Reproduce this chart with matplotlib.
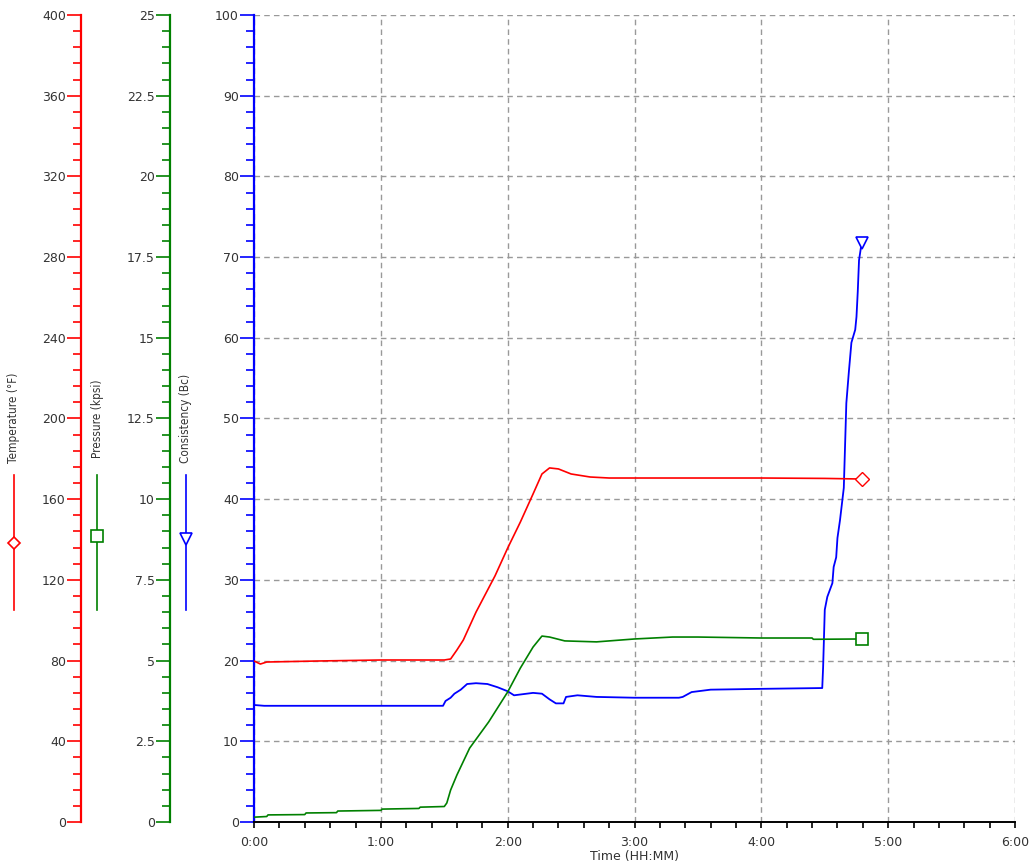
import numpy as np
import matplotlib
matplotlib.use("Agg")
import matplotlib.pyplot as plt
from matplotlib.lines import Line2D
from matplotlib.ticker import MultipleLocator, FuncFormatter

# data (time in hours)
temp_t = [0, 0.05, 0.1, 0.5, 1.0, 1.5, 1.55, 1.6, 1.65, 1.75, 1.9, 2.0, 2.1, 2.2,
          2.27, 2.33, 2.4, 2.5, 2.65, 2.8, 3.0, 3.5, 4.0, 4.5, 4.79]
temp_v = [79.8, 78.3, 79.3, 79.8, 80.3, 80.3, 80.8, 85.3, 90.2, 104, 122, 135.8, 148.7, 162.6,
          172.5, 175.5, 175, 172.5, 171, 170.5, 170.5, 170.5, 170.5, 170.3, 170]

pres_t = [0, 0.1, 0.11, 0.4, 0.41, 0.65, 0.66, 1.0, 1.01, 1.3, 1.31, 1.5, 1.52, 1.55, 1.6,
          1.7, 1.85, 2.0, 2.1, 2.2, 2.27, 2.33, 2.45, 2.7, 3.0, 3.3, 3.5, 4.0, 4.4, 4.41, 4.79]
pres_v = [0.15, 0.17, 0.22, 0.23, 0.28, 0.29, 0.34, 0.36, 0.40, 0.42, 0.46, 0.48, 0.59, 0.99, 1.46,
          2.29, 3.10, 4.03, 4.77, 5.42, 5.76, 5.73, 5.61, 5.58, 5.67, 5.73, 5.73, 5.70, 5.70, 5.66, 5.67]

cons_t = [0, 0.08, 1.49, 1.51, 1.55, 1.58, 1.63, 1.68, 1.75, 1.84, 1.92, 2.0, 2.05, 2.1, 2.2,
          2.27, 2.33, 2.38, 2.44, 2.46, 2.55, 2.7, 3.0, 3.35, 3.38, 3.45, 3.6, 4.0, 4.48,
          4.487, 4.50, 4.52, 4.56, 4.57, 4.59, 4.60, 4.62, 4.65, 4.67, 4.69, 4.71, 4.74,
          4.75, 4.76, 4.77, 4.79]
cons_v = [14.5, 14.4, 14.4, 15.0, 15.4, 15.9, 16.4, 17.1, 17.2, 17.1, 16.7, 16.2, 15.7, 15.8, 16.0,
          15.9, 15.2, 14.7, 14.7, 15.5, 15.7, 15.5, 15.4, 15.4, 15.5, 16.1, 16.4, 16.5, 16.6,
          19.2, 26.3, 27.9, 29.6, 31.6, 32.8, 35.2, 37.4, 41.4, 51.9, 55.8, 59.4, 61.0,
          62.6, 65.7, 69.6, 71.7]

RED = "#ff0000"
GREEN = "#008000"
BLUE = "#0000ff"
TXT = "#333333"

fig = plt.figure(figsize=(10.31, 8.66), dpi=100)
ax = fig.add_axes([0.2464, 0.0508, 0.7381, 0.9319])
ax_t = ax.twinx()
ax_p = ax.twinx()

ax.set_xlim(0, 6)
ax.set_ylim(0, 100)
ax_t.set_ylim(0, 400)
ax_p.set_ylim(0, 25)

# grid
ax.set_axisbelow(True)
ax.grid(True, which="major", color="#999999", linestyle=(0, (4, 3)), linewidth=1.0)

# lines
ax.plot(cons_t, cons_v, color=BLUE, lw=1.3)
ax.plot(cons_t[-1], cons_v[-1], marker="v", ms=9, mfc="white", mec=BLUE, mew=1.2, clip_on=False)
ax_t.plot(temp_t, temp_v, color=RED, lw=1.2)
ax_t.plot(temp_t[-1], temp_v[-1], marker="D", ms=7, mfc="white", mec=RED, mew=1.0)
ax_p.plot(pres_t, pres_v, color=GREEN, lw=1.2)
ax_p.plot(pres_t[-1], pres_v[-1], marker="s", ms=9, mfc="white", mec=GREEN, mew=1.2)

# main axis styling
for s in ["top", "right"]:
    ax.spines[s].set_visible(False)
ax.spines["left"].set_color(BLUE)
ax.spines["left"].set_linewidth(1.6)
ax.spines["bottom"].set_color("black")
ax.spines["bottom"].set_linewidth(1.4)

ax.xaxis.set_major_locator(MultipleLocator(1))
ax.xaxis.set_minor_locator(MultipleLocator(0.2))
ax.xaxis.set_major_formatter(FuncFormatter(lambda v, p: "%d:00" % int(round(v))))
ax.tick_params(axis="x", which="both", direction="out", length=4, width=1.2,
               color="black", labelsize=9, labelcolor=TXT, pad=6)
ax.set_xlabel("Time (HH:MM)", fontsize=9, color=TXT, labelpad=1)

def style_y(a, color, major, minor, fmt):
    a.yaxis.set_major_locator(MultipleLocator(major))
    a.yaxis.set_minor_locator(MultipleLocator(minor))
    a.yaxis.set_major_formatter(FuncFormatter(fmt))
    a.tick_params(axis="y", which="major", direction="out", length=10, width=1.2,
                  color=color, labelsize=9, labelcolor=TXT, pad=1)
    a.tick_params(axis="y", which="minor", direction="out", length=5.5, width=1.2, color=color)

style_y(ax, BLUE, 10, 2, lambda v, p: "%g" % v)

for a, color, pos, major, minor in [(ax_t, RED, -0.2273, 40, 8), (ax_p, GREEN, -0.1104, 2.5, 0.5)]:
    for s in ["top", "bottom", "right"]:
        a.spines[s].set_visible(False)
    a.spines["left"].set_visible(True)
    a.spines["left"].set_position(("axes", pos))
    a.spines["left"].set_color(color)
    a.spines["left"].set_linewidth(1.6)
    a.yaxis.set_ticks_position("left")
    a.yaxis.set_label_position("left")
    a.patch.set_visible(False)
    style_y(a, color, major, minor, lambda v, p: "%g" % v)

# legend-like axis labels on the left
items = [
    ("Temperature (\u00b0F)", RED, 14 / 1031, "D", 0.373, 6),
    ("Pressure (kpsi)", GREEN, 97 / 1031, "s", 0.381, 8),
    ("Consistency (Bc)", BLUE, 186 / 1031, "v", 0.378, 8),
]
for text, color, x, mk, my, ms in items:
    fig.text(x, 0.517, text, rotation=90, ha="center", va="center", fontsize=8.5,
             color=TXT, family="DejaVu Sans", fontstretch="condensed")
    fig.add_artist(Line2D([x, x], [0.4515, 0.2956], transform=fig.transFigure,
                          color=color, lw=1.2))
    fig.add_artist(Line2D([x], [my], transform=fig.transFigure, marker=mk, ms=ms,
                          mfc="white", mec=color, mew=1.2, color=color))

fig.savefig("out.png", dpi=100)
